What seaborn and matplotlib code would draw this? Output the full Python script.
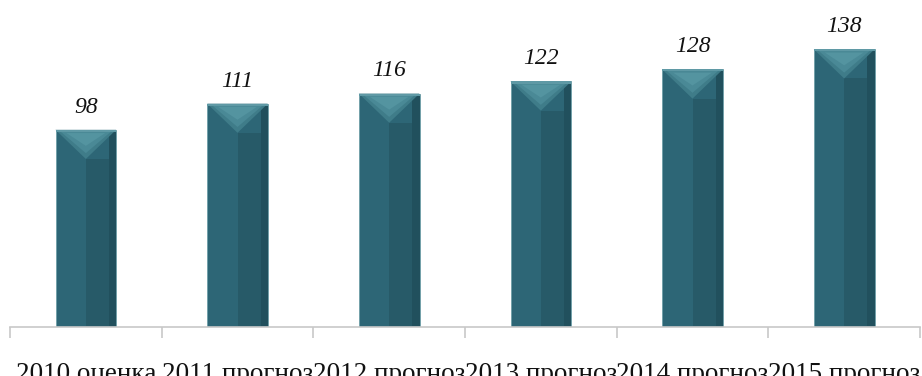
import matplotlib; matplotlib.use('Agg')
import numpy as np
import pandas as pd
import seaborn as sns
import matplotlib.pyplot as plt
from matplotlib.patches import Polygon

years = ['2010 оценка', '2011 прогноз', '2012 прогноз', '2013 прогноз', '2014 прогноз', '2015 прогноз']
values = [98, 111, 116, 122, 128, 138]

df = pd.DataFrame({'year': years, 'value': values})

sns.set_style('white')
plt.rcParams['font.family'] = ['Liberation Serif', 'DejaVu Serif']

fig = plt.figure(figsize=(9.22, 3.76), dpi=100)
ax = fig.add_axes([10 / 922, 49 / 376, 910 / 922, 327 / 376])

sns.barplot(data=df, x='year', y='value', color='#2d6676', width=0.4,
            saturation=1, ax=ax)

# bevel decoration for each bar: lighter top triangle, darker right half
for p in ax.patches:
    x0, y0 = p.get_x(), p.get_y()
    w, h = p.get_width(), p.get_height()
    p.set_edgecolor('#6e9ea8')
    p.set_linewidth(0.6)
    xm = x0 + w / 2
    bevel = 14.5
    top = y0 + h
    ax.add_patch(Polygon([(xm, 0.3), (x0 + w, 0.3), (x0 + w, top - bevel), (xm, top - bevel)],
                         closed=True, color='#275a68', lw=0, zorder=3))
    ax.add_patch(Polygon([(x0 + w * 0.88, 0.3), (x0 + w, 0.3), (x0 + w, top), (x0 + w * 0.88, top)],
                         closed=True, color='#21505d', lw=0, zorder=3))
    ax.add_patch(Polygon([(x0, top), (x0 + w, top), (xm, top - bevel)],
                         closed=True, color='#3f7c89', lw=0, zorder=4))
    ax.add_patch(Polygon([(x0 + w * 0.08, top - 0.8), (x0 + w * 0.92, top - 0.8), (xm, top - bevel * 0.8)],
                         closed=True, color='#4a8996', lw=0, zorder=4))
    ax.add_patch(Polygon([(x0 + w * 0.18, top - 1.6), (x0 + w * 0.82, top - 1.6), (xm, top - bevel * 0.55)],
                         closed=True, color='#5494a0', lw=0, zorder=4))
    ax.add_patch(Polygon([(x0, top), (x0 + w, top), (x0 + w, top - 1.0), (x0, top - 1.0)],
                         closed=True, color='#5f99a5', lw=0, zorder=5))

for i, v in enumerate(values):
    ax.text(i, v + 6, str(v), ha='center', va='bottom', fontsize=17,
            style='italic', color='#111111')

ax.set_xlim(-0.5, len(years) - 0.5)
ax.set_ylim(0, 162.5)
ax.set_xlabel('')
ax.set_ylabel('')
ax.set_yticks([])
ax.set_xticks(np.arange(-0.5, len(years)), minor=True)
ax.tick_params(axis='x', which='minor', bottom=True, length=8, color='#c8c8c8', width=1.2)
ax.tick_params(axis='x', which='major', length=0, pad=25, labelsize=19.5, labelcolor='#111111')
for s in ['top', 'right', 'left']:
    ax.spines[s].set_visible(False)
ax.spines['bottom'].set_color('#c8c8c8')
ax.spines['bottom'].set_linewidth(1.2)

fig.savefig('out.png', dpi=100)
